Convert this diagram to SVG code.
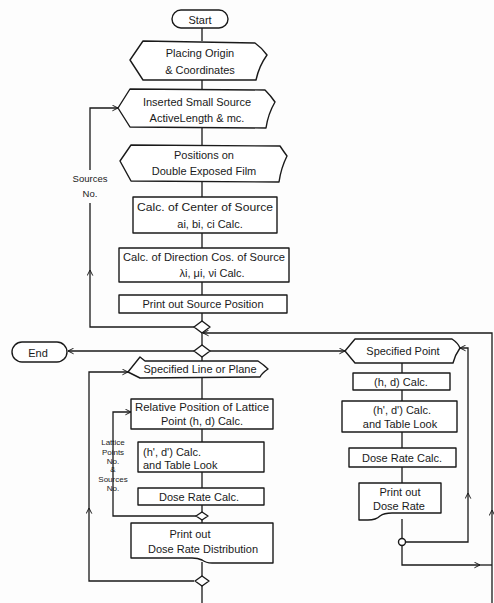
<svg xmlns="http://www.w3.org/2000/svg" width="494" height="603" viewBox="0 0 494 603">
<defs>
<style>
.s{fill:#fff;stroke:#1a1a1a;stroke-width:1.4;stroke-linejoin:round}
.c{fill:none;stroke:#1a1a1a;stroke-width:1.3}
.t{font-family:"Liberation Sans",Arial,sans-serif;font-size:11px;fill:#1a1a1a;text-anchor:middle}
.l{text-anchor:start}
.sm{font-size:9.5px}
.xs{font-size:8px}
</style>
<marker id="a" viewBox="0 0 10 10" refX="9" refY="5" markerWidth="7" markerHeight="7" orient="auto" markerUnits="userSpaceOnUse">
<path d="M1,1 L9,5 L1,9" fill="none" stroke="#1a1a1a" stroke-width="1.4"/>
</marker>
</defs>
<rect width="494" height="603" fill="#fdfdfd"/>
<g id="connectors">
<path class="c" d="M202,28 V41 M202,80 V89 M202,128 V146 M202,182 V197 M202,233 V248 M202,282 V295 M202,313 V321 M202,333 V345 M202,357 V361 M202,377 V399 M202,429 V442 M202,472 V488 M202,505 V512 M202,520 V523 M202,562 V576 M202,586 V603"/>
<path class="c" d="M402,363 V373 M402,390 V401 M402,432 V448 M402,467 V483 M402,519 V538"/>
<path class="c" d="M194,327 H90 V270" marker-end="url(#a)"/>
<path class="c" d="M90,270 V203 M90,170 V108 H118" marker-end="url(#a)"/>
<path class="c" d="M492,603 V510" marker-end="url(#a)"/>
<path class="c" d="M492,510 V333 H203" marker-end="url(#a)"/>
<path class="c" d="M194,351 H68" marker-end="url(#a)"/>
<path class="c" d="M210,351 H345" marker-end="url(#a)"/>
<path class="c" d="M194,581 H89 V508" marker-end="url(#a)"/>
<path class="c" d="M89,508 V372 H128" marker-end="url(#a)"/>
<path class="c" d="M196,516 H113 V412 H131" marker-end="url(#a)"/>
<path class="c" d="M405.5,542 H468 V493" marker-end="url(#a)"/>
<path class="c" d="M468,493 V348 H460" marker-end="url(#a)"/>
<path class="c" d="M402,545.5 V565 H480" marker-end="url(#a)"/>
<path class="c" d="M480,565 H492"/>
<path class="s" d="M202,321 L210,327 L202,333 L194,327 Z"/>
<path class="s" d="M202,345 L210,351 L202,357 L194,351 Z"/>
<path class="s" d="M202,512 L208,516 L202,520 L196,516 Z"/>
<path class="s" d="M202,576 L209,581 L202,586 L195,581 Z"/>
<circle class="s" cx="402" cy="542" r="3.5"/>
<text class="t sm" x="90" y="182">Sources</text>
<text class="t sm" x="90" y="197">No.</text>
<text class="t xs" x="113" y="445">Lattice</text>
<text class="t xs" x="113" y="455">Points</text>
<text class="t xs" x="113" y="464">No.</text>
<text class="t xs" x="113" y="472">&amp;</text>
<text class="t xs" x="113" y="482">Sources</text>
<text class="t xs" x="113" y="491">No.</text>
</g>
<g id="start">
<rect class="s" x="172" y="10" width="56" height="18" rx="9"/>
<text class="t" x="200" y="24" font-size="13">Start</text>
</g>
<g id="placing">
<path class="s" d="M130,60 L143,41 L255,43 Q262,48 267,55 Q259,66 256,80 L143,80 Z"/>
<text class="t" x="200" y="57">Placing Origin</text>
<text class="t" x="200" y="74">&amp; Coordinates</text>
</g>
<g id="inserted">
<path class="s" d="M118,108 L130,89 L265,90 Q271,96 275,102 Q268,114 266,128 L130,127 Z"/>
<text class="t" x="197" y="106">Inserted Small Source</text>
<text class="t" x="197" y="122">ActiveLength &amp; mc.</text>
</g>
<g id="positions">
<path class="s" d="M120,161 L131,145 L280,146 Q284,152 287,156 Q281,168 279,182 L131,181 Z"/>
<text class="t" x="204" y="159">Positions on</text>
<text class="t" x="204" y="175">Double Exposed Film</text>
</g>
<g id="center">
<rect class="s" x="133" y="197" width="144" height="36"/>
<text class="t" x="205" y="211" textLength="136" lengthAdjust="spacingAndGlyphs">Calc. of Center of Source</text>
<text class="t" x="210" y="228">ai, bi, ci  Calc.</text>
</g>
<g id="direction">
<rect class="s" x="119" y="248" width="170" height="34"/>
<text class="t" x="204" y="261" textLength="162" lengthAdjust="spacingAndGlyphs">Calc. of Direction Cos. of Source</text>
<text class="t" x="212" y="277">λi, μi, νi  Calc.</text>
</g>
<g id="printsource">
<rect class="s" x="119" y="295" width="168" height="18"/>
<text class="t" x="203" y="308">Print out Source Position</text>
</g>
<g id="end">
<rect class="s" x="12" y="342" width="55" height="20" rx="10"/>
<text class="t" x="38" y="357" font-size="13">End</text>
</g>
<g id="specpoint">
<path class="s" d="M345,351 L355,339 L452,339 Q458,343 460,348 Q455,355 453,363 L355,363 Z"/>
<text class="t" x="403" y="355">Specified Point</text>
</g>
<g id="hd">
<rect class="s" x="353" y="373" width="97" height="17"/>
<text class="t" x="401" y="386">(h, d)  Calc.</text>
</g>
<g id="hd2">
<rect class="s" x="342" y="401" width="115" height="31"/>
<text class="t" x="402" y="414">(h', d')  Calc.</text>
<text class="t" x="400" y="428">and Table Look</text>
</g>
<g id="dose1">
<rect class="s" x="349" y="448" width="107" height="19"/>
<text class="t" x="402" y="462">Dose Rate Calc.</text>
</g>
<g id="printdose">
<path class="s" d="M359,483 L441,483 L441,513 L392,513 Q384,513 380,516 Q376,520 368,520 L359,520 Z"/>
<text class="t" x="400" y="496">Print out</text>
<text class="t" x="399" y="510">Dose Rate</text>
</g>
<g id="specline">
<path class="s" d="M128,372 L140,357 L145,361 L258,361 Q264,365 268,369 Q262,373 260,377 L140,378 Z"/>
<text class="t" x="200" y="373">Specified Line or Plane</text>
</g>
<g id="relative">
<rect class="s" x="131" y="399" width="142" height="30"/>
<text class="t" x="202" y="411" textLength="134" lengthAdjust="spacingAndGlyphs">Relative Position of Lattice</text>
<text class="t" x="202" y="425">Point (h, d) Calc.</text>
</g>
<g id="hd3">
<rect class="s" x="138" y="442" width="126" height="30"/>
<text class="t l" x="143" y="456">(h', d') Calc.</text>
<text class="t l" x="143" y="469">and Table Look</text>
</g>
<g id="dose2">
<rect class="s" x="138" y="488" width="126" height="17"/>
<text class="t" x="199" y="501">Dose Rate Calc.</text>
</g>
<g id="printdist">
<path class="s" d="M131,523 L273,523 L273,563 L212,563 Q206,563 202,560 Q198,558 192,558 L131,558 Z"/>
<text class="t" x="190" y="538">Print out</text>
<text class="t" x="203" y="553">Dose Rate Distribution</text>
</g>
</svg>
